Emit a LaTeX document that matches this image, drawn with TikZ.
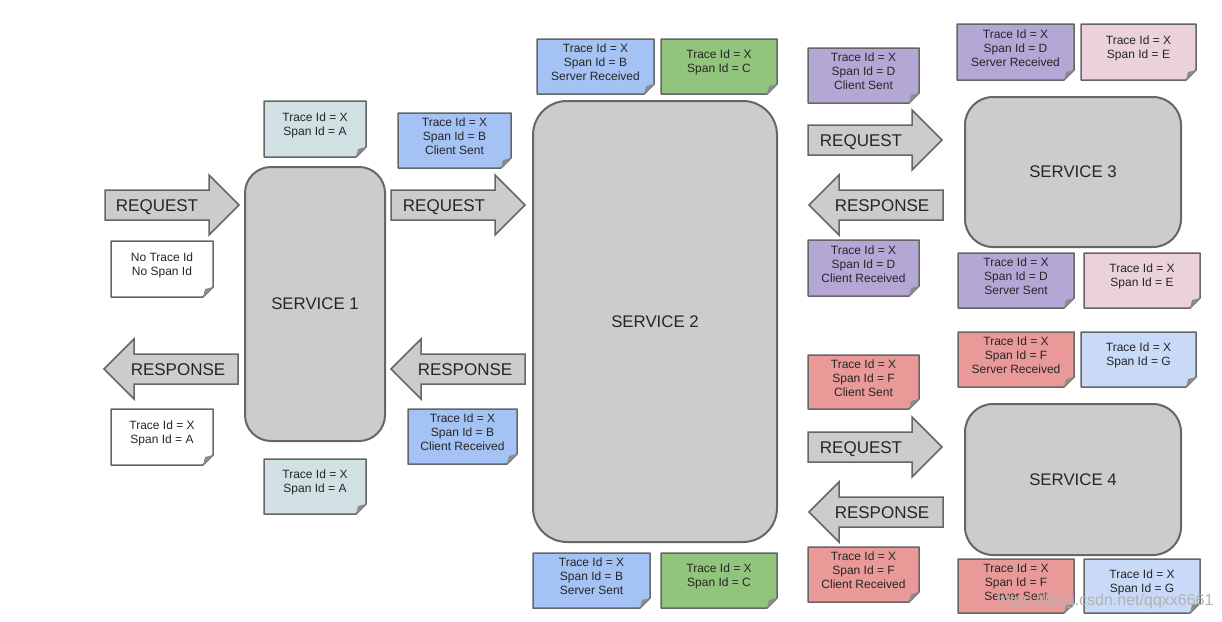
\documentclass[tikz,border=0pt]{standalone}
\usepackage{fontspec}
\setmainfont{Liberation Sans}

\definecolor{edgegray}{HTML}{666666}
\definecolor{boxgray}{HTML}{CCCCCC}
\definecolor{spanA}{HTML}{D0E0E3}
\definecolor{spanB}{HTML}{A4C2F4}
\definecolor{spanC}{HTML}{93C47D}
\definecolor{spanD}{HTML}{B4A7D6}
\definecolor{spanE}{HTML}{EAD1DC}
\definecolor{spanF}{HTML}{EA9999}
\definecolor{spanG}{HTML}{C9DAF8}

\tikzset{
  service/.style={draw=edgegray, line width=2pt, fill=boxgray, rounded corners=#1,
    font=\fontsize{16.8}{20}\selectfont, text=black!85},
  service/.default=26pt,
  arrowbody/.style={draw=edgegray, line width=1.5pt, fill=boxgray, line join=miter},
  arrowlabel/.style={font=\fontsize{17}{20}\selectfont, text=black!85, anchor=base, inner sep=0pt},
  notepaper/.style={draw=edgegray, line width=1.5pt, line join=round},
  notefold/.style={fill=edgegray!75},
  notetext/.style={align=center, font=\fontsize{12}{14}\selectfont, text=black!85, inner sep=0pt}
}

% name, tail x, mid y, direction (1 or -1), label x, label
\newcommand{\flowarrow}[6]{%
  \filldraw[arrowbody] (#2,#3-15) -- ({#2+#4*104},#3-15) -- ({#2+#4*104},#3-30)
    -- ({#2+#4*134},#3) -- ({#2+#4*104},#3+30) -- ({#2+#4*104},#3+15) -- (#2,#3+15) -- cycle;
  \node[arrowlabel] (#1) at (#5,#3+6) {#6};
}

% name, colour, x1, y1, x2, y2, text
\newcommand{\notebox}[7]{%
  \filldraw[notepaper, fill=#2] (#3,#4) -- (#5,#4) -- (#5,#6-10) -- (#5-10,#6) -- (#3,#6) -- cycle;
  \fill[notefold] (#5,#6-10) -- (#5-10,#6) -- (#5-8,#6-8) -- cycle;
  \node[notetext] (#1) at ({(#3+#5)/2},{(#4+#6)/2-4}) {#7};
}

\begin{document}
\begin{tikzpicture}[x=1pt, y=-1pt]
  \useasboundingbox (0,0) rectangle (1222,621);

  \node[service, minimum width=140pt, minimum height=274pt] (svc1) at (315,304) {SERVICE 1};
  \node[service=34pt, minimum width=244pt, minimum height=441pt] (svc2) at (655,321.5) {SERVICE 2};
  \node[service=28pt, minimum width=216pt, minimum height=150pt] (svc3) at (1073,172) {SERVICE 3};
  \node[service=28pt, minimum width=216pt, minimum height=151pt] (svc4) at (1073,479.5) {SERVICE 4};

  \flowarrow{req1}{105}{205}{1}{157}{REQUEST}
  \flowarrow{resp1}{238}{369}{-1}{178}{RESPONSE}
  \flowarrow{req2}{391}{205}{1}{444}{REQUEST}
  \flowarrow{resp2}{525}{369}{-1}{465}{RESPONSE}
  \flowarrow{req3}{808}{140}{1}{861}{REQUEST}
  \flowarrow{resp3}{943}{205}{-1}{882}{RESPONSE}
  \flowarrow{req4}{808}{447}{1}{861}{REQUEST}
  \flowarrow{resp4}{943}{512}{-1}{882}{RESPONSE}

  \notebox{noid}{white}{111}{241}{213}{297}{No Trace Id\\No Span Id}
  \notebox{backA}{white}{111}{409}{213}{465}{Trace Id = X\\Span Id = A}
  \notebox{inA}{spanA}{264}{101}{366}{157}{Trace Id = X\\Span Id = A}
  \notebox{outA}{spanA}{264}{459}{366}{514}{Trace Id = X\\Span Id = A}

  \notebox{csB}{spanB}{398}{113}{511}{168}{Trace Id = X\\Span Id = B\\Client Sent}
  \notebox{crB}{spanB}{408}{409}{517}{464}{Trace Id = X\\Span Id = B\\Client Received}
  \notebox{srB}{spanB}{537}{39}{654}{94}{Trace Id = X\\Span Id = B\\Server Received}
  \notebox{ssB}{spanB}{533}{553}{650}{608}{Trace Id = X\\Span Id = B\\Server Sent}
  \notebox{inC}{spanC}{661}{39}{777}{94}{Trace Id = X\\Span Id = C}
  \notebox{outC}{spanC}{661}{553}{777}{608}{Trace Id = X\\Span Id = C}

  \notebox{csD}{spanD}{808}{48}{919}{103}{Trace Id = X\\Span Id = D\\Client Sent}
  \notebox{crD}{spanD}{808}{240}{919}{296}{Trace Id = X\\Span Id = D\\Client Received}
  \notebox{srD}{spanD}{957}{24}{1074}{80}{Trace Id = X\\Span Id = D\\Server Received}
  \notebox{ssD}{spanD}{958}{253}{1074}{308}{Trace Id = X\\Span Id = D\\Server Sent}
  \notebox{inE}{spanE}{1081}{24}{1196}{80}{Trace Id = X\\Span Id = E}
  \notebox{outE}{spanE}{1084}{253}{1200}{308}{Trace Id = X\\Span Id = E}

  \notebox{csF}{spanF}{808}{355}{919}{409}{Trace Id = X\\Span Id = F\\Client Sent}
  \notebox{crF}{spanF}{808}{547}{919}{602}{Trace Id = X\\Span Id = F\\Client Received}
  \notebox{srF}{spanF}{958}{332}{1074}{387}{Trace Id = X\\Span Id = F\\Server Received}
  \notebox{ssF}{spanF}{958}{559}{1074}{613}{Trace Id = X\\Span Id = F\\Server Sent}
  \notebox{inG}{spanG}{1081}{332}{1196}{387}{Trace Id = X\\Span Id = G}
  \notebox{outG}{spanG}{1084}{559}{1200}{613}{Trace Id = X\\Span Id = G}

  \node[font=\fontsize{16}{18}\selectfont, text=black!30, inner sep=0pt] (mark) at (1105,601) {https://blog.csdn.net/qqxx6661};
\end{tikzpicture}
\end{document}
